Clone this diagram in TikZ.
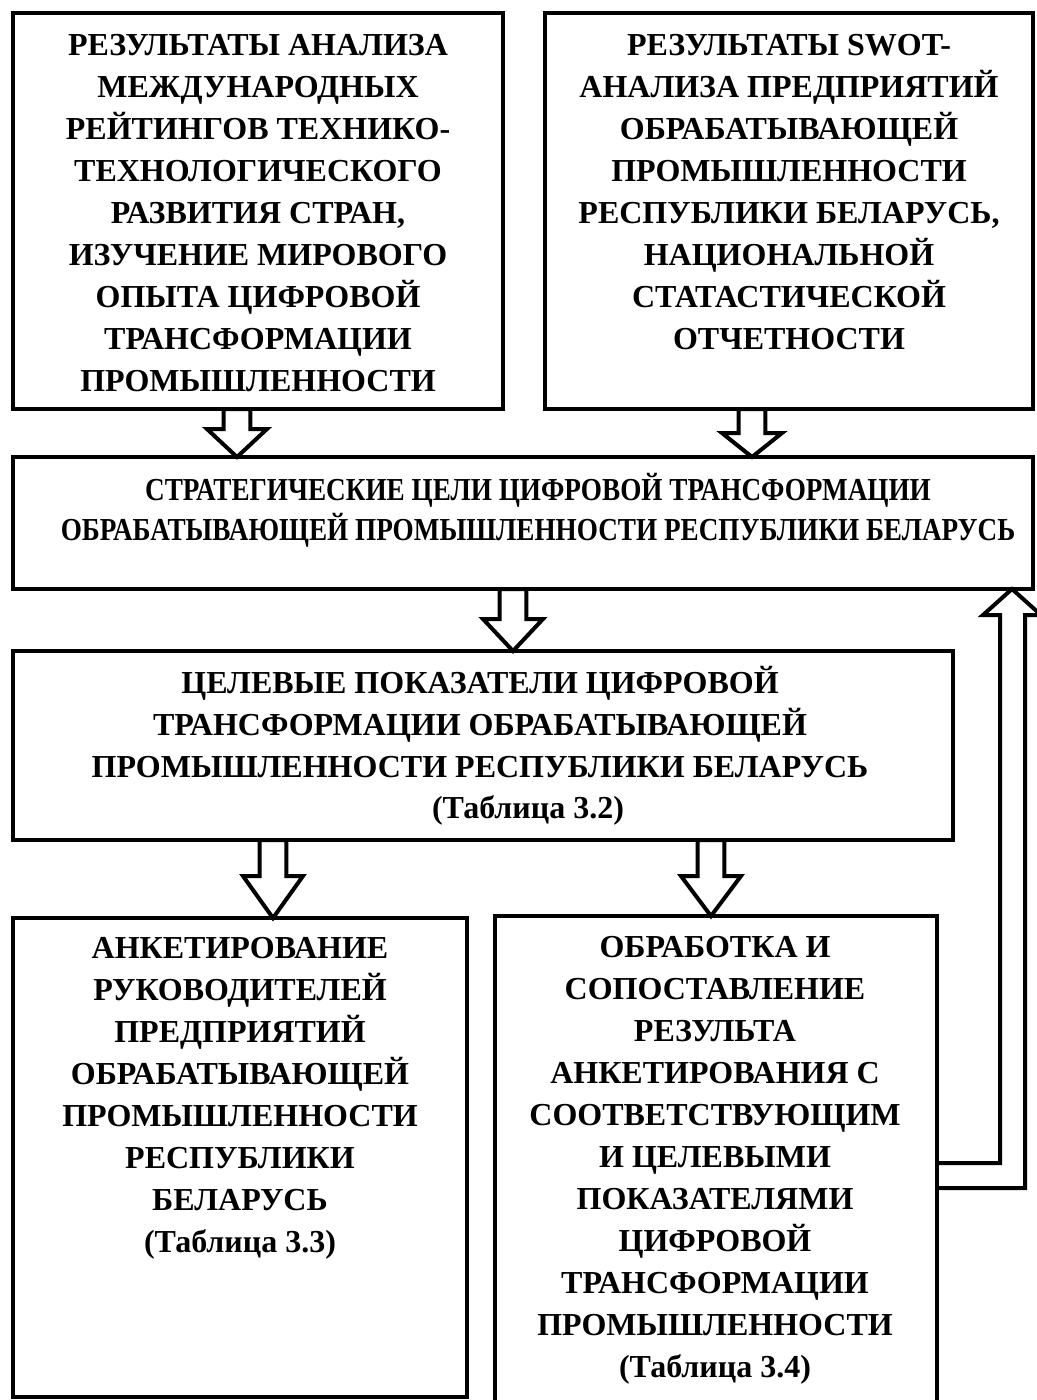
\documentclass[tikz,border=0pt]{standalone}
\usepackage{fontspec}
\usepackage{graphicx}
\setmainfont{Liberation Serif}
\usetikzlibrary{calc}

\tikzset{
  box/.style={draw, line width=3pt, inner sep=0pt, outer sep=0pt, anchor=north west},
  txt/.style={font=\bfseries\fontsize{24}{31.5}\selectfont, align=center, anchor=north, inner sep=0pt},
  hollow/.style={draw, line width=3pt, line join=miter},
}

% hollow block arrow pointing down: x position, source node, target node, head length
\newcommand\blockarrow[4]{%
  \draw[hollow] let \p0=(#1,0), \p1=(#2.south), \p2=(#3.north) in
    (\x0-10pt,\y1) -- (\x0-10pt,\y2+#4) -- (\x0-22.5pt,\y2+#4) -- (\x0,\y2)
    -- (\x0+22.5pt,\y2+#4) -- (\x0+10pt,\y2+#4) -- (\x0+10pt,\y1) -- cycle;}

\newcommand\lns[1]{\strut#1\strut}

\begin{document}
\begin{tikzpicture}[x=0.75pt,y=-0.75pt]
\useasboundingbox (0,0) rectangle (1036,1400);

% boxes
\node[box, minimum width=367.5pt, minimum height=297pt] (b1) at (13,13) {};
\node[box, minimum width=366pt,   minimum height=297pt] (b2) at (545,13) {};
\node[box, minimum width=765pt,   minimum height=99pt]  (b3) at (13,457) {};
\node[box, minimum width=705pt,   minimum height=141.75pt] (b4) at (13,651) {};
\node[box, minimum width=340.5pt, minimum height=359.25pt] (b5) at (13,918) {};
\node[box, minimum width=331.5pt, minimum height=375pt] (b6) at (495,916) {};

% texts
\node[txt] (t1) at (258,26) {\lns{РЕЗУЛЬТАТЫ АНАЛИЗА\\МЕЖДУНАРОДНЫХ\\РЕЙТИНГОВ ТЕХНИКО-\\ТЕХНОЛОГИЧЕСКОГО\\РАЗВИТИЯ СТРАН,\\ИЗУЧЕНИЕ МИРОВОГО\\ОПЫТА ЦИФРОВОЙ\\ТРАНСФОРМАЦИИ\\ПРОМЫШЛЕННОСТИ}};
\node[txt] (t2) at (789,26) {\lns{РЕЗУЛЬТАТЫ SWOT-\\АНАЛИЗА ПРЕДПРИЯТИЙ\\ОБРАБАТЫВАЮЩЕЙ\\ПРОМЫШЛЕННОСТИ\\РЕСПУБЛИКИ БЕЛАРУСЬ,\\НАЦИОНАЛЬНОЙ\\СТАТАСТИЧЕСКОЙ\\ОТЧЕТНОСТИ}};
\node[txt, font=\bfseries\fontsize{24}{30}\selectfont] (t3) at (538,472) {\lns{\scalebox{0.85}[1]{СТРАТЕГИЧЕСКИЕ ЦЕЛИ ЦИФРОВОЙ ТРАНСФОРМАЦИИ}\\\scalebox{0.85}[1]{ОБРАБАТЫВАЮЩЕЙ ПРОМЫШЛЕННОСТИ РЕСПУБЛИКИ БЕЛАРУСЬ}}};
\node[txt] (t4) at (480,664) {\lns{ЦЕЛЕВЫЕ ПОКАЗАТЕЛИ ЦИФРОВОЙ\\ТРАНСФОРМАЦИИ ОБРАБАТЫВАЮЩЕЙ\\ПРОМЫШЛЕННОСТИ РЕСПУБЛИКИ БЕЛАРУСЬ}};
\node[txt] (t4b) at (528,789) {\lns{(Таблица 3.2)}};
\node[txt] (t5) at (240,929) {\lns{АНКЕТИРОВАНИЕ\\РУКОВОДИТЕЛЕЙ\\ПРЕДПРИЯТИЙ\\ОБРАБАТЫВАЮЩЕЙ\\ПРОМЫШЛЕННОСТИ\\РЕСПУБЛИКИ\\БЕЛАРУСЬ\\(Таблица 3.3)}};
\node[txt] (t6) at (715,928) {\lns{ОБРАБОТКА И\\СОПОСТАВЛЕНИЕ\\РЕЗУЛЬТА\\АНКЕТИРОВАНИЯ С\\СООТВЕТСТВУЮЩИМ\\И ЦЕЛЕВЫМИ\\ПОКАЗАТЕЛЯМИ\\ЦИФРОВОЙ\\ТРАНСФОРМАЦИИ\\ПРОМЫШЛЕННОСТИ\\(Таблица 3.4)}};

% block arrows
\blockarrow{237}{b1}{b3}{21pt}
\blockarrow{752}{b2}{b3}{18pt}
\blockarrow{513}{b3}{b4}{24pt}
\blockarrow{273}{b4}{b5}{31.5pt}
\blockarrow{711}{b4}{b6}{30pt}

% feedback arrow from the last box back up to the strategic goals
\draw[hollow] let \p1=(b6.east), \p2=(b3.south), \p0=(1012,0),
    \p3=(0,1163), \p4=(0,1188) in
  (\x1,\y3) -- (\x0-9pt,\y3) -- (\x0-9pt,\y2-19.5pt) -- (\x0-21.75pt,\y2-19.5pt)
  -- (\x0,\y2) -- (\x0+21.75pt,\y2-19.5pt) -- (\x0+9.75pt,\y2-19.5pt)
  -- (\x0+9.75pt,\y4) -- (\x1,\y4);
\end{tikzpicture}
\end{document}
